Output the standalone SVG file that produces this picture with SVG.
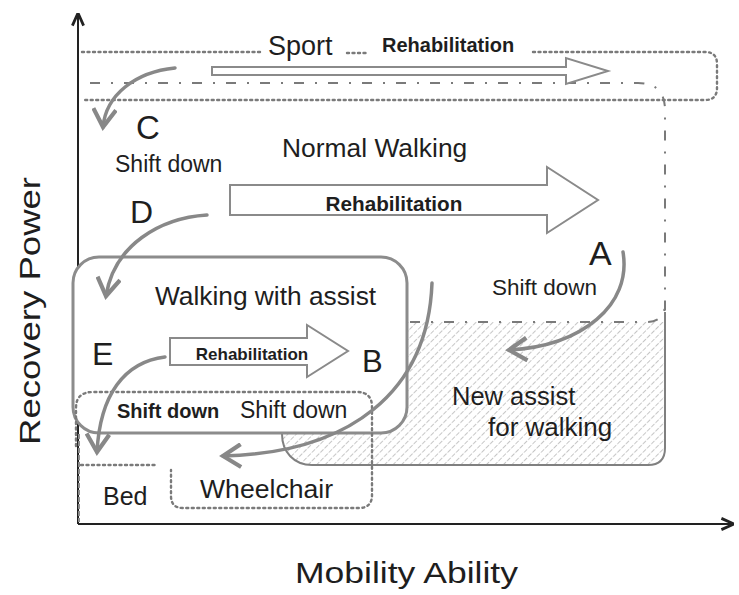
<svg xmlns="http://www.w3.org/2000/svg" width="739" height="595" viewBox="0 0 739 595">
  <style>
    text { font-family: "Liberation Sans", Arial, sans-serif; fill: #1e1e1e; }
    .b { font-weight: bold; }
    .dot { fill: none; stroke: #7a7a7a; stroke-width: 2.4; stroke-dasharray: 2 3.5; stroke-linecap: round; }
    .dashdot { fill: none; stroke: #7a7a7a; stroke-width: 2; stroke-dasharray: 10 11 2 11; }
    .frame { fill: #fff; stroke: #8c8c8c; stroke-width: 3; }
    .hollow { fill: #fff; stroke: #8a8a8a; stroke-width: 2; stroke-linejoin: miter; }
    .flow { fill: none; stroke: #888; stroke-width: 3.5; stroke-linecap: round; marker-end: url(#vee); }
    .axis { fill: none; stroke: #222; stroke-width: 2; }
  </style>
  <defs>
    <marker id="vee" markerUnits="userSpaceOnUse" markerWidth="26" markerHeight="26" refX="12" refY="8" viewBox="0 0 16 16" orient="auto">
      <path d="M1,1 L12,8 L1,15" fill="none" stroke="#888" stroke-width="2.6" stroke-linejoin="miter"/>
    </marker>
    <marker id="axhead" markerUnits="userSpaceOnUse" markerWidth="14" markerHeight="14" refX="10" refY="5" viewBox="0 0 10 10" orient="auto">
      <path d="M1,1 L10,5 L1,9" fill="none" stroke="#222" stroke-width="2"/>
    </marker>
    <pattern id="hatch" patternUnits="userSpaceOnUse" width="6" height="6" patternTransform="rotate(45)">
      <line x1="0" y1="0" x2="0" y2="6" stroke="#8e8e8e" stroke-width="1" stroke-dasharray="3.5 1.5"/>
    </pattern>
  </defs>

  <rect width="739" height="595" fill="#fff"/>

  <!-- axes -->
  <g id="axes">
    <line class="axis" x1="78" y1="524" x2="78" y2="13" marker-end="url(#axhead)"/>
    <line class="axis" x1="78" y1="524" x2="734" y2="524" marker-end="url(#axhead)"/>
    <text x="295" y="583" font-size="30" textLength="223" lengthAdjust="spacingAndGlyphs">Mobility Ability</text>
    <text transform="translate(40,311) rotate(-90)" text-anchor="middle" font-size="29" textLength="268" lengthAdjust="spacingAndGlyphs">Recovery Power</text>
  </g>

  <!-- sport band -->
  <g id="sport">
    <path class="dot" d="M82,52 H262"/>
    <path class="dot" d="M347,53 H368"/>
    <path class="dot" d="M533,52 H705 Q717,52 717,64 V88 Q717,100 705,100 H82"/>
    <text x="268" y="55" font-size="27">Sport</text>
    <text class="b" x="382" y="52" font-size="20">Rehabilitation</text>
  </g>

  <!-- new assist for walking (hatched) -->
  <g id="new-assist">
    <path d="M282,322 H665 V448 Q665,465 648,465 H312 C294,465 282,452 282,434 Z" fill="url(#hatch)"/>
    <path d="M665,312 V448 Q665,465 648,465 H312 C294,465 282,452 282,434" fill="none" stroke="#808080" stroke-width="2"/>
    <text x="452" y="405" font-size="25.5">New assist</text>
    <text x="488" y="436" font-size="26">for walking</text>
  </g>

  <!-- normal walking -->
  <g id="normal-walking">
    <path class="dashdot" d="M90,83 H638 Q665,83 665,110 V312"/>
    <path class="dashdot" d="M410,322 H647 Q663,322 665,306"/>
    <text x="282" y="157" font-size="26.4">Normal Walking</text>
    <path class="hollow" d="M230,185 H547 V167 L598,200 L547,233 V215 H230 Z"/>
    <text class="b" x="394" y="211" font-size="20.7" text-anchor="middle">Rehabilitation</text>
    <text x="136" y="139" font-size="33">C</text>
    <text x="115" y="172" font-size="23">Shift down</text>
    <text x="130" y="223" font-size="32">D</text>
    <text x="589" y="265" font-size="34">A</text>
    <text x="492" y="295" font-size="22.5">Shift down</text>
  </g>

  <!-- walking with assist -->
  <g id="walking-assist">
    <rect class="frame" x="73" y="257" width="334" height="176" rx="26"/>
    <text x="155" y="305" font-size="26.3">Walking with assist</text>
    <text x="92" y="365" font-size="32">E</text>
    <path class="hollow" d="M170,338 H307 V325 L348,351 L307,377 V365 H170 Z"/>
    <text class="b" x="252" y="360" font-size="17" text-anchor="middle">Rehabilitation</text>
    <text x="362" y="372" font-size="31">B</text>
  </g>

  <!-- wheelchair and shift-down zone -->
  <g id="wheelchair">
    <path class="dot" d="M76,446 V408 Q76,392 93,392 H357 Q372,392 372,407 V495 Q372,508 359,508 H183 Q171,508 171,496 V470"/>
    <text class="b" x="117" y="418" font-size="20">Shift down</text>
    <text x="240" y="418" font-size="23">Shift down</text>
    <text x="200" y="498" font-size="26.6">Wheelchair</text>
  </g>

  <!-- bed -->
  <g id="bed">
    <path class="dot" d="M81,465 H158"/>
    <path d="M79,434 V522" fill="none" stroke="#8a8a8a" stroke-width="2" stroke-dasharray="5 2"/>
    <text x="103" y="505" font-size="25">Bed</text>
  </g>

  <!-- transitions -->
  <g id="connectors">
    <path class="hollow" d="M212,67 H566 V58 L608,71 L566,84 V75 H212 Z"/>
    <path class="flow" d="M175,68 C135,72 106,95 103,127"/>
    <path class="flow" d="M207,215 C160,218 114,245 106,296"/>
    <path class="flow" d="M623,252 C632,305 582,346 509,350"/>
    <path class="flow" d="M432,283 C428,392 350,453 223,456"/>
    <path class="flow" d="M165,357 C124,362 100,395 97,452"/>
  </g>
</svg>
